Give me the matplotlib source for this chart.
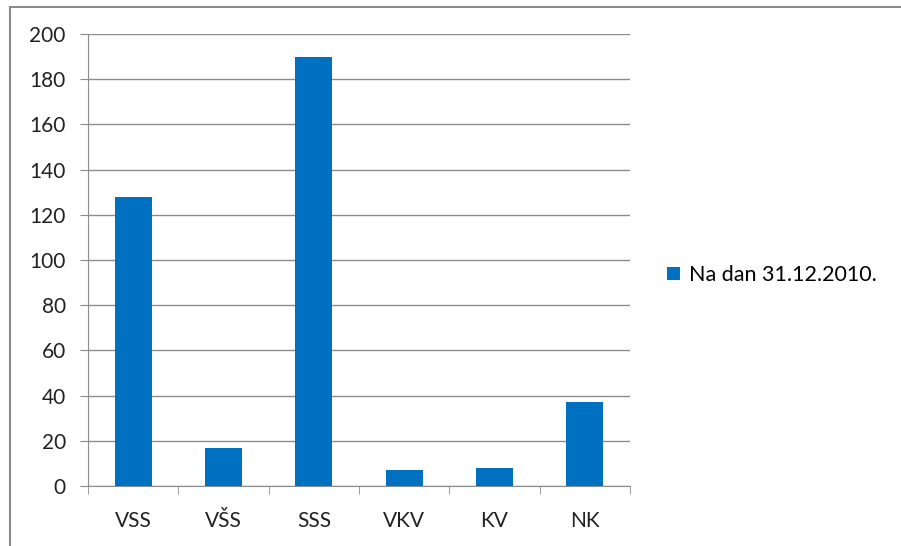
import matplotlib.pyplot as plt
from matplotlib.lines import Line2D
from matplotlib.patches import Patch

categories = ['VSS', 'VŠS', 'SSS', 'VKV', 'KV', 'NK']
values = [128, 17, 190, 7, 8, 37]
series_name = 'Na dan 31.12.2010.'
yticks = list(range(0, 201, 20))

plt.rcParams['font.family'] = ['Lato', 'DejaVu Sans']

fig = plt.figure(figsize=(9.01, 5.46), dpi=100)
ax = fig.add_axes([88 / 901, 1 - 486 / 546, (630 - 88) / 901, (486 - 34) / 546])

x = range(len(categories))
ax.bar(x, values, width=0.41, color='#0070C0', zorder=3)

ax.set_ylim(0, 200)
ax.set_yticks(yticks)
ax.set_xlim(-0.5, len(categories) - 0.5)
ax.set_xticks(list(x))
ax.set_xticklabels(categories)
ax.set_xticks([i - 0.5 for i in range(len(categories) + 1)], minor=True)
ax.tick_params(axis='x', which='major', length=0, pad=18, labelsize=15, colors='#222222')
ax.tick_params(axis='x', which='minor', length=6, color='#8c8c8c', direction='out')
ax.tick_params(axis='y', length=6, color='#8c8c8c', labelsize=15, pad=10, labelcolor='#222222')

ax.grid(axis='y', color='#8c8c8c', linewidth=1, zorder=0)
for side in ['top', 'right']:
    ax.spines[side].set_visible(False)
for side in ['left', 'bottom']:
    ax.spines[side].set_color('#8c8c8c')

handle = Patch(facecolor='#0070C0', label=series_name)
fig.legend(handles=[handle], loc='center left', bbox_to_anchor=(648 / 901, 1 - 275 / 546),
           frameon=False, fontsize=15.5, handlelength=0.6, handleheight=0.6, handletextpad=0.4)

# outer frame: only the top and left edges show in the picture
fig.add_artist(Line2D([10 / 901, 1], [1 - 7 / 546] * 2, transform=fig.transFigure,
                      color='#8c8c8c', linewidth=1.5))
fig.add_artist(Line2D([10 / 901] * 2, [0, 1 - 7 / 546], transform=fig.transFigure,
                      color='#8c8c8c', linewidth=1.5))

fig.savefig('out.png', dpi=100)
